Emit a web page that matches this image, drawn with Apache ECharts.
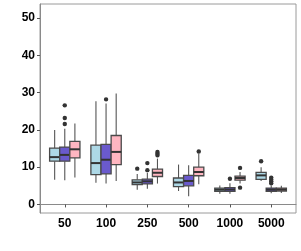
<!DOCTYPE html>
<html><head><meta charset="utf-8">
<script src="https://cdn.jsdelivr.net/npm/echarts@6/dist/echarts.min.js"></script>
<style>html,body{margin:0;padding:0;background:#fff}#c{width:301px;height:251px}</style>
</head><body><div id="c"></div>
<script>
const categories = ['50', '100', '250', '500', '1000', '5000'];
const yTicks = [0, 10, 20, 30, 40, 50];
// [low whisker, Q1, median, Q3, high whisker] per category
const boxA = [[6.6,11.6,12.7,15.1,20.0],[5.8,8.0,11.1,15.9,27.7],[3.95,5.3,5.9,6.6,8.2],[3.6,4.8,5.9,7.1,10.7],[2.9,3.5,3.95,4.4,5.1],[6.3,6.7,7.8,8.6,10.0]];
const boxB = [[6.5,11.6,13.3,15.4,20.3],[5.6,8.2,12.0,16.1,27.1],[4.2,5.5,6.2,6.8,8.5],[2.2,5.0,6.3,7.8,10.5],[2.9,3.5,4.0,4.5,5.7],[3.0,3.5,3.95,4.4,5.1]];
const boxC = [[7.2,12.5,14.8,16.9,21.7],[6.3,10.7,14.1,18.5,29.8],[5.6,7.5,8.5,9.5,12.3],[5.4,7.7,8.7,10.0,13.6],[5.6,6.5,7.1,7.6,8.7],[3.1,3.6,4.0,4.4,5.0]];
// outliers: [category index, value]
const outA = [[2,9.6],[5,11.6]];
const outB = [[0,21.6],[0,23.2],[0,26.6],[1,28.2],[2,9.2],[2,11.1],[4,6.9],[5,5.7],[5,6.2],[5,6.7],[5,7.2]];
const outC = [[2,13.2],[2,13.6],[2,14.1],[3,14.2],[4,9.8],[4,4.5]];
const colors = ['#ADD8E6', '#6A5ACD', '#FFB6C1'];
const offsets = [-1, 0, 1];
const BOXFRAC = 0.245;

function boxSeries(arr, si) {
  return {
    type: 'custom',
    data: arr.map((d, i) => [i + 1].concat(d)),
    encode: { x: 0, y: [1, 2, 3, 4, 5] },
    z: 3,
    renderItem: function (params, api) {
      const x = api.value(0);
      const band = api.size([1, 0])[0];
      const w = band * BOXFRAC;
      const cx = api.coord([x, 0])[0] + offsets[si] * w;
      const yLo = api.coord([x, api.value(1)])[1];
      const yQ1 = api.coord([x, api.value(2)])[1];
      const yMd = api.coord([x, api.value(3)])[1];
      const yQ3 = api.coord([x, api.value(4)])[1];
      const yHi = api.coord([x, api.value(5)])[1];
      const lineStyle = { stroke: '#555', lineWidth: 1.1 };
      return {
        type: 'group',
        children: [
          { type: 'line', shape: { x1: cx, y1: yHi, x2: cx, y2: yQ3 }, style: lineStyle },
          { type: 'line', shape: { x1: cx, y1: yQ1, x2: cx, y2: yLo }, style: lineStyle },
          { type: 'rect', shape: { x: cx - w / 2, y: yQ3, width: w, height: yQ1 - yQ3 },
            style: { fill: colors[si], stroke: '#4a4a4a', lineWidth: 1.3 } },
          { type: 'line', shape: { x1: cx - w / 2, y1: yMd, x2: cx + w / 2, y2: yMd },
            style: { stroke: '#333', lineWidth: 2 } }
        ]
      };
    }
  };
}
function outlierSeries(arr, si) {
  return {
    type: 'custom',
    data: arr.map(d => [d[0] + 1, d[1]]),
    encode: { x: 0, y: 1 },
    z: 4,
    renderItem: function (params, api) {
      const x = api.value(0);
      const band = api.size([1, 0])[0];
      const w = band * BOXFRAC;
      const p = api.coord([x, api.value(1)]);
      return { type: 'circle', shape: { cx: p[0] + offsets[si] * w, cy: p[1], r: 2.2 },
        style: { fill: '#333' } };
    }
  };
}

const chart = echarts.init(document.getElementById('c'), null, { renderer: 'canvas' });
chart.setOption({
  animation: false,
  grid: { left: 40, right: 5, top: 4, bottom: 38, show: true, borderColor: '#9a9a9a', borderWidth: 1, backgroundColor: '#fff' },
  xAxis: {
    type: 'value', min: 0.4, max: 6.6,
    splitLine: { show: false },
    axisLine: { show: true, lineStyle: { color: '#8a8a8a', width: 1 } },
    axisTick: { show: true, length: 3, lineStyle: { color: '#555' }, customValues: categories.map((c, i) => i + 1) },
    axisLabel: { customValues: categories.map((c, i) => i + 1), formatter: v => categories[Math.round(v) - 1] || '',
      color: '#000', fontFamily: 'Liberation Sans', fontWeight: 'bold', fontSize: 12, margin: 5 }
  },
  yAxis: {
    type: 'value', min: -2.3, max: 53.8,
    splitLine: { show: false },
    axisLine: { show: true, lineStyle: { color: '#8a8a8a', width: 1 } },
    axisTick: { show: true, length: 3, lineStyle: { color: '#555' }, customValues: yTicks },
    axisLabel: { customValues: yTicks, color: '#000', fontFamily: 'Liberation Sans', fontWeight: 'bold', fontSize: 12, margin: 5 }
  },
  series: [
    boxSeries(boxA, 0), boxSeries(boxB, 1), boxSeries(boxC, 2),
    outlierSeries(outA, 0), outlierSeries(outB, 1), outlierSeries(outC, 2)
  ]
});
</script></body></html>
